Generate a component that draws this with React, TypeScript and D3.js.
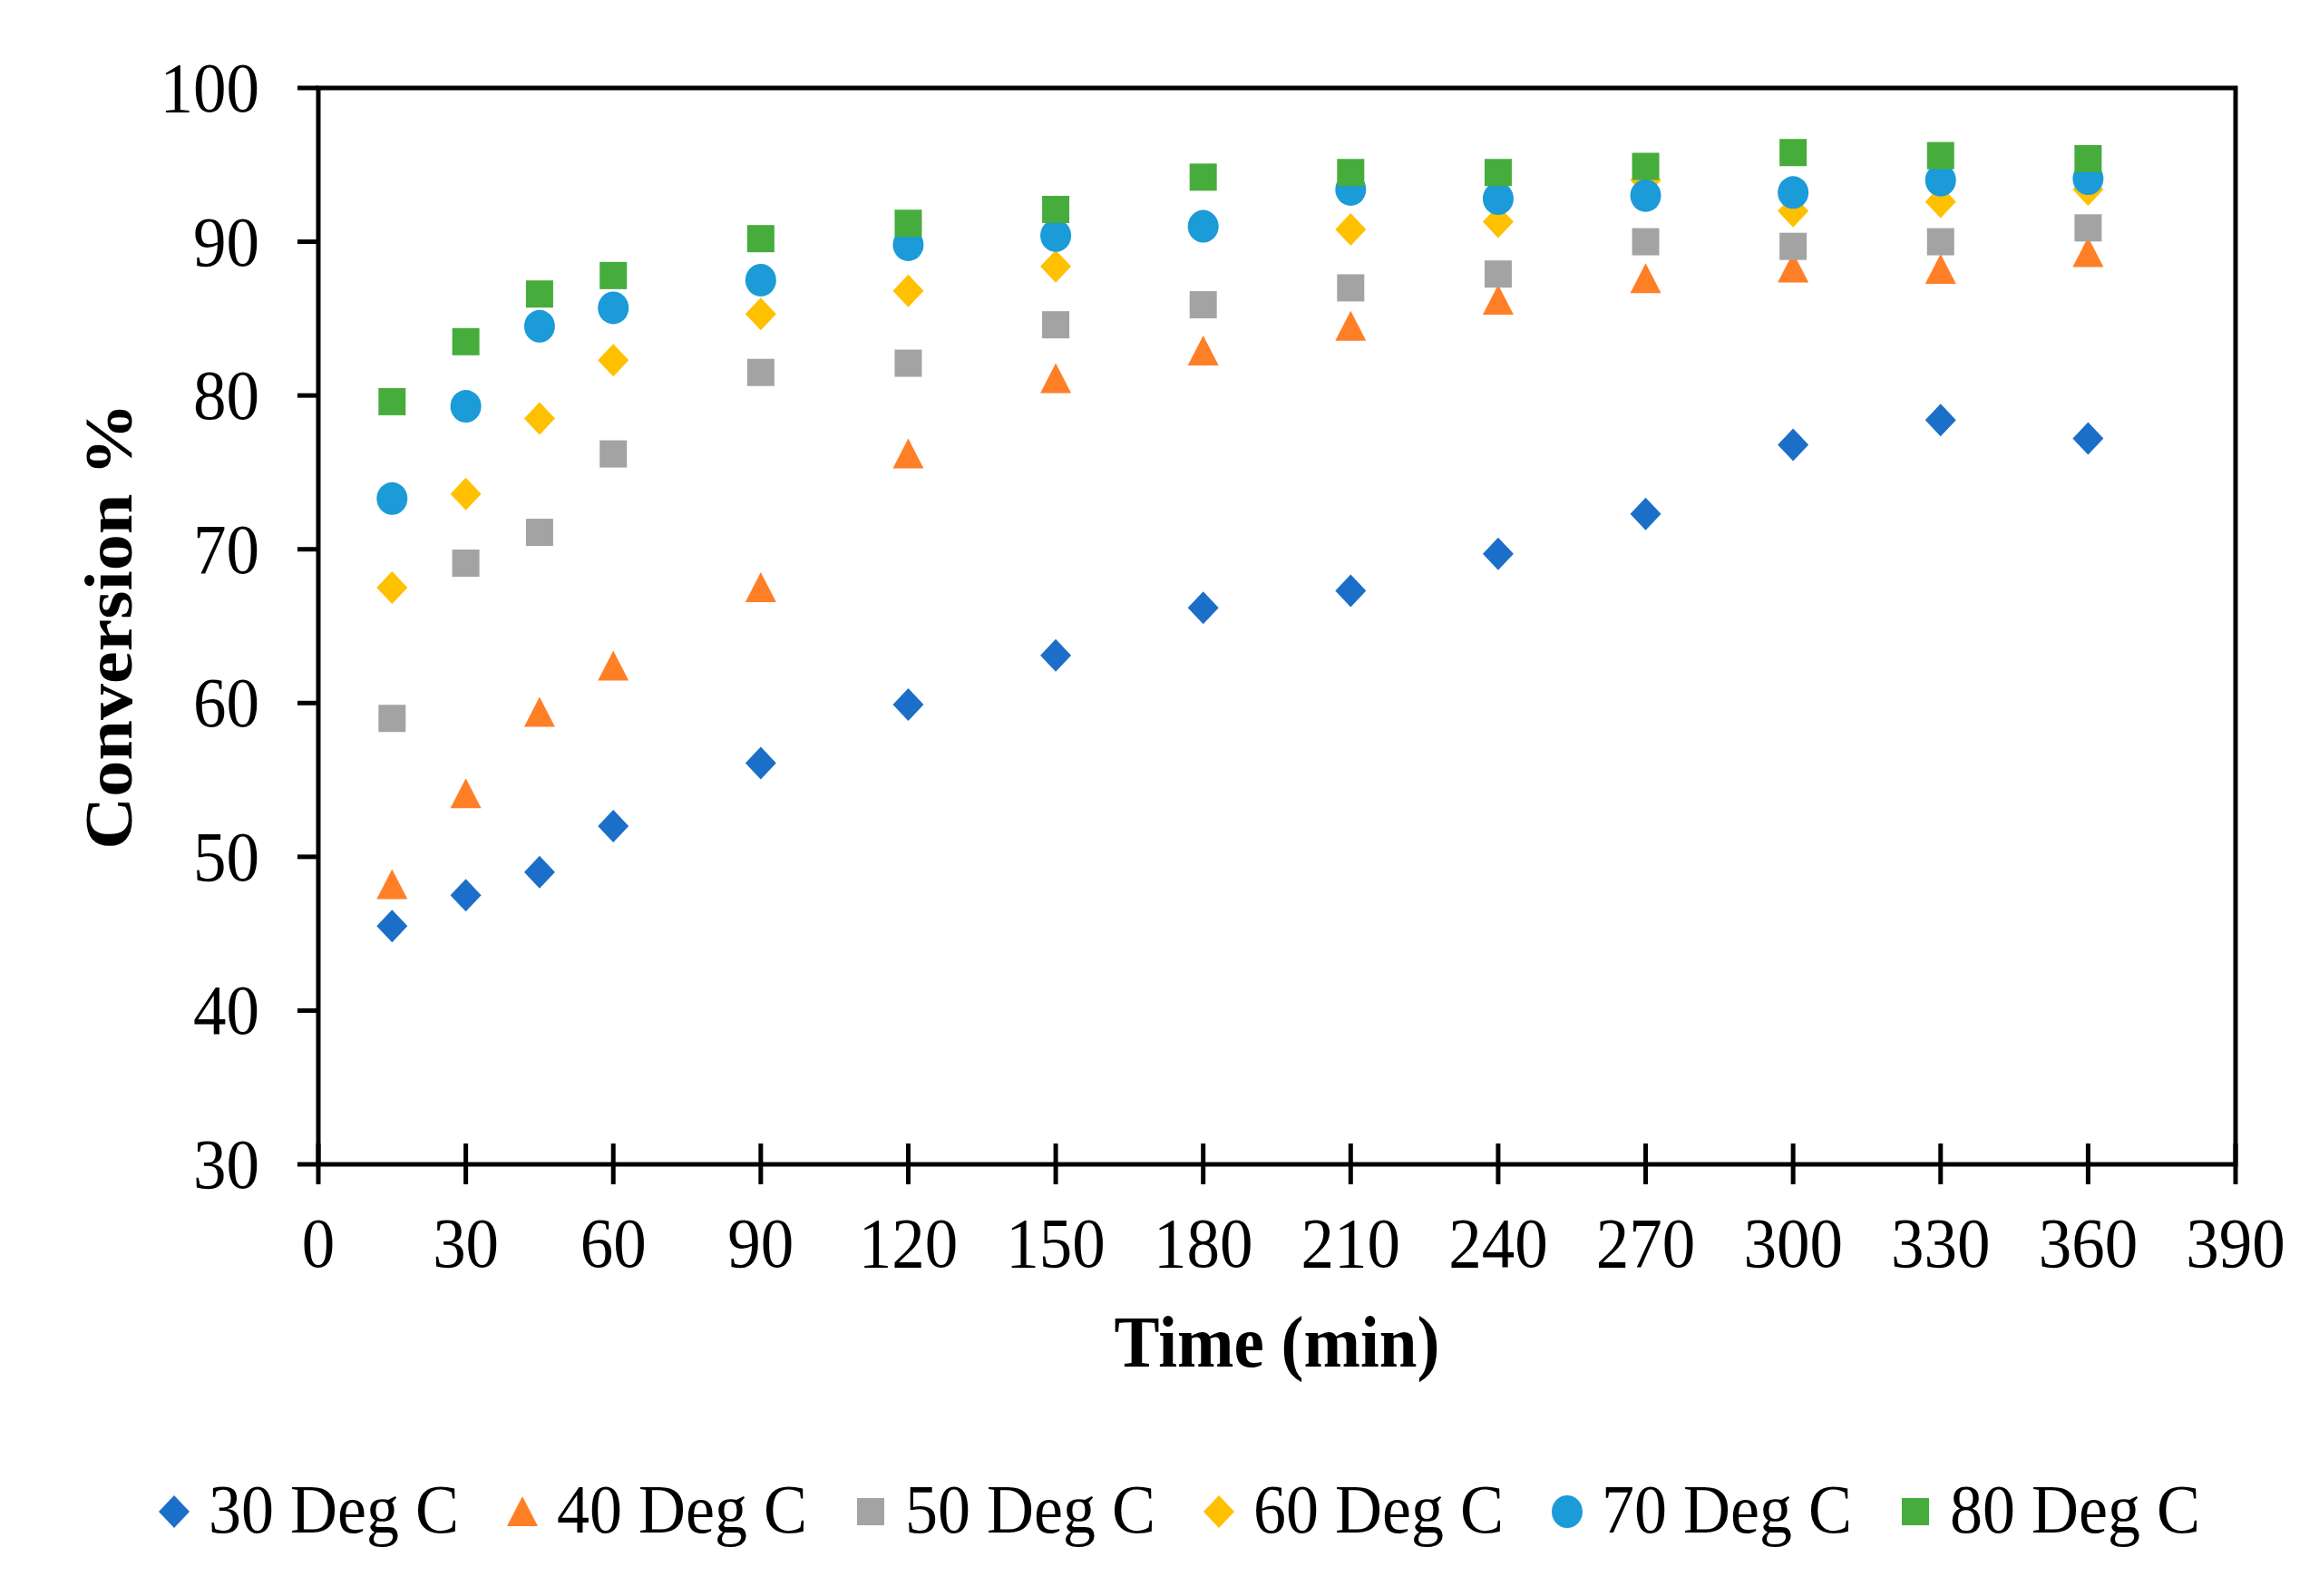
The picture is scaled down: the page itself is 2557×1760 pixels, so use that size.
import React from "react";
import * as d3 from "d3";

const times = [15, 30, 45, 60, 90, 120, 150, 180, 210, 240, 270, 300, 330, 360];
const deg30 = [45.5, 47.5, 49.0, 52.0, 56.1, 59.9, 63.1, 66.2, 67.3, 69.7, 72.3, 76.8, 78.4, 77.2];
const deg40 = [48.2, 54.1, 59.4, 62.4, 67.5, 76.2, 81.1, 82.9, 84.5, 86.2, 87.6, 88.3, 88.2, 89.3];
const deg50 = [59.0, 69.1, 71.1, 76.2, 81.5, 82.1, 84.6, 85.9, 87.0, 87.9, 90.0, 89.7, 90.0, 90.9];
const deg60 = [67.5, 73.6, 78.5, 82.3, 85.3, 86.8, 88.4, 91.0, 90.8, 91.3, 94.0, 92.0, 92.6, 93.4];
const deg70 = [73.3, 79.3, 84.5, 85.7, 87.5, 89.8, 90.4, 91.0, 93.4, 92.8, 93.0, 93.2, 94.0, 94.1];
const deg80 = [79.6, 83.5, 86.6, 87.8, 90.2, 91.2, 92.1, 94.2, 94.5, 94.5, 94.9, 95.8, 95.6, 95.4];

const seriesNames = ["30 Deg C", "40 Deg C", "50 Deg C", "60 Deg C", "70 Deg C", "80 Deg C"];
const seriesValues = [deg30, deg40, deg50, deg60, deg70, deg80];
const seriesColors = ["#1C6FC8", "#FF7F27", "#A3A3A3", "#FFC000", "#1B9BD7", "#46AD3C"];
const seriesShapes = ["diamond", "triangle", "square", "diamond", "circle", "square"];

const xTicks = [0, 30, 60, 90, 120, 150, 180, 210, 240, 270, 300, 330, 360, 390];
const yTicks = [30, 40, 50, 60, 70, 80, 90, 100];

const W = 2557;
const H = 1760;
const L = 351, R = 2465, T = 97, B = 1284;
const FONT = "'Liberation Serif', 'Times New Roman', serif";

function shapePath(shape: string): string {
  switch (shape) {
    case "diamond":
      return "M0,-18L17,0L0,18L-17,0Z";
    case "triangle":
      return "M0,-17L17,16L-17,16Z";
    case "square":
      return "M-15,-15H15V15H-15Z";
    default:
      return "";
  }
}

function Marker({ shape, color, x, y }: { shape: string; color: string; x: number; y: number }) {
  if (shape === "circle") {
    return <ellipse cx={x} cy={y} rx={17} ry={18} fill={color} />;
  }
  return <path d={shapePath(shape)} transform={`translate(${x},${y})`} fill={color} />;
}

export default function App() {
  const x = d3.scaleLinear().domain([0, 390]).range([L, R]);
  const y = d3.scaleLinear().domain([30, 100]).range([B, T]);
  const sy = 1.07;

  const legendStart = 192;
  const legendStep = 384;
  const legendY = 1667;

  return (
    <svg
      width={W}
      height={H}
      viewBox={`0 0 ${W} ${H}`}
      style={{ position: "absolute", left: 0, top: 0, background: "#fff" }}
    >
      <rect x={0} y={0} width={W} height={H} fill="#fff" />
      {/* plot border */}
      <rect x={L} y={T} width={R - L} height={B - T} fill="none" stroke="#000" strokeWidth={5} />

      {/* y ticks and labels */}
      {yTicks.map((t) => (
        <g key={"y" + t}>
          <line x1={L - 23} x2={L} y1={y(t)} y2={y(t)} stroke="#000" strokeWidth={5} />
          <text
            transform={`translate(${L - 65},${y(t) + 26}) scale(1,${sy})`}
            textAnchor="end"
            fontFamily={FONT}
            fontSize={73}
            fill="#000"
          >
            {t}
          </text>
        </g>
      ))}

      {/* x ticks and labels */}
      {xTicks.map((t) => (
        <g key={"x" + t}>
          <line x1={x(t)} x2={x(t)} y1={B - 23} y2={B + 22} stroke="#000" strokeWidth={5} />
          <text
            transform={`translate(${x(t)},${1397}) scale(1,${sy})`}
            textAnchor="middle"
            fontFamily={FONT}
            fontSize={73}
            fill="#000"
          >
            {t}
          </text>
        </g>
      ))}

      {/* data */}
      {seriesValues.map((vals, si) => (
        <g key={"s" + si}>
          {vals.map((v, i) => (
            <Marker
              key={i}
              shape={seriesShapes[si]}
              color={seriesColors[si]}
              x={x(times[i])}
              y={y(v)}
            />
          ))}
        </g>
      ))}

      {/* axis titles */}
      <text
        transform={`translate(${(L + R) / 2},${1507}) scale(1,${sy})`}
        textAnchor="middle"
        fontFamily={FONT}
        fontWeight="bold"
        fontSize={75}
        fill="#000"
      >
        Time (min)
      </text>
      <text
        transform={`translate(${145},${(T + B) / 2}) rotate(-90) scale(${sy},1)`}
        textAnchor="middle"
        fontFamily={FONT}
        fontWeight="bold"
        fontSize={75}
        fill="#000"
      >
        Conversion %
      </text>

      {/* legend */}
      {seriesNames.map((name, si) => {
        const cx = legendStart + si * legendStep;
        return (
          <g key={"l" + si}>
            <Marker shape={seriesShapes[si]} color={seriesColors[si]} x={cx} y={legendY} />
            <text
              transform={`translate(${cx + 38},${1690}) scale(1,${sy})`}
              fontFamily={FONT}
              fontSize={72}
              fill="#000"
            >
              {name}
            </text>
          </g>
        );
      })}
    </svg>
  );
}
